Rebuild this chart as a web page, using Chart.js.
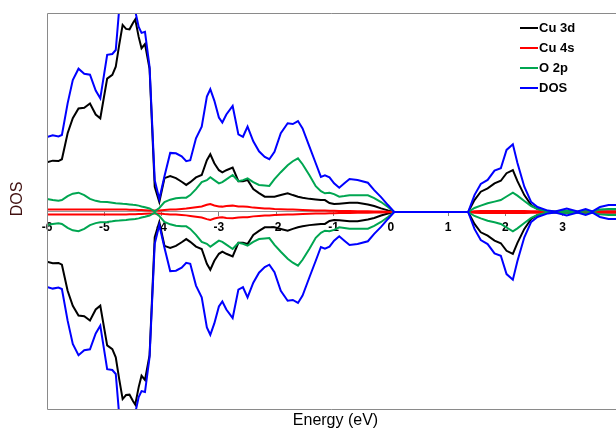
<!DOCTYPE html>
<html><head><meta charset="utf-8">
<script src="https://cdn.jsdelivr.net/npm/chart.js@4/dist/chart.umd.min.js"></script>
<style>html,body{margin:0;padding:0;background:#fff;} #wrap{width:616px;height:430px;position:relative;}</style>
</head><body><div id="wrap"><canvas id="c" width="616" height="430"></canvas></div>
<script>
// Energy grid (eV)
const energy = [-6.0,-5.9,-5.8,-5.74,-5.64,-5.55,-5.45,-5.35,-5.25,-5.15,-5.07,-4.95,-4.86,-4.8,-4.74,-4.68,-4.62,-4.56,-4.5,-4.46,-4.4,-4.35,-4.29,-4.21,-4.12,-4.04,-3.95,-3.85,-3.75,-3.65,-3.57,-3.5,-3.4,-3.3,-3.21,-3.15,-3.08,-3.0,-2.94,-2.87,-2.76,-2.66,-2.58,-2.5,-2.4,-2.3,-2.2,-2.12,-2.03,-1.92,-1.8,-1.71,-1.62,-1.54,-1.42,-1.31,-1.22,-1.15,-1.07,-0.99,-0.9,-0.81,-0.72,-0.58,-0.4,-0.29,-0.17,-0.05,0.06,1.35,1.46,1.57,1.69,1.81,1.92,2.02,2.13,2.21,2.33,2.45,2.56,2.74,2.87,3.07,3.26,3.4,3.52,3.65,3.8,3.93];
// Spin-up partial DOS values (spin-down is drawn as the mirror image)
const cu3d = [2.5,2.58,2.56,2.65,3.96,4.71,5.2,5.24,5.45,4.9,4.71,6.7,6.89,7.3,8.4,9.4,9.2,9.18,9.5,9.68,8.8,8.23,8.44,7.2,1.27,0.5,1.7,1.81,1.7,1.52,1.36,1.5,1.74,1.86,2.6,2.9,2.45,2.1,1.99,2.1,2.23,1.55,1.55,1.61,1.15,0.95,0.77,0.77,0.77,0.85,0.94,0.85,0.77,0.72,0.66,0.63,0.6,0.6,0.45,0.4,0.42,0.44,0.46,0.47,0.38,0.3,0.18,0.08,0,0,0.6,1.02,1.19,1.44,1.57,1.95,2.11,1.55,0.85,0.35,0.15,0.03,0.01,0.01,0,0.01,0,0.02,0.02,0.02];
const cu4s = [0.12,0.12,0.12,0.12,0.13,0.13,0.12,0.12,0.13,0.12,0.12,0.12,0.12,0.12,0.12,0.12,0.12,0.11,0.11,0.11,0.1,0.1,0.09,0.08,0.07,0.07,0.1,0.12,0.13,0.15,0.17,0.2,0.24,0.28,0.36,0.4,0.33,0.28,0.27,0.3,0.32,0.28,0.27,0.26,0.22,0.2,0.18,0.17,0.15,0.14,0.13,0.12,0.11,0.1,0.09,0.08,0.07,0.07,0.06,0.06,0.05,0.05,0.05,0.04,0.04,0.03,0.02,0.01,0,0,0.04,0.05,0.05,0.05,0.05,0.05,0.05,0.05,0.05,0.04,0.04,0.01,0.01,0.01,0.01,0.01,0.01,0.02,0.02,0.02];
const o2p = [0.65,0.6,0.57,0.6,0.8,0.92,0.97,0.85,0.66,0.56,0.52,0.5,0.47,0.44,0.43,0.41,0.4,0.38,0.36,0.35,0.32,0.28,0.24,0.18,0.03,0.2,0.5,0.62,0.69,0.72,0.72,0.85,1.15,1.5,1.6,1.75,1.6,1.44,1.5,1.64,1.86,1.55,1.6,1.69,1.5,1.36,1.33,1.31,1.65,2.0,2.35,2.55,2.7,2.4,1.85,1.3,1.05,0.94,0.97,0.9,0.77,0.8,0.84,0.84,0.84,0.7,0.5,0.25,0,0,0.2,0.32,0.44,0.52,0.6,0.78,0.97,0.82,0.55,0.3,0.15,0.03,0.03,0.06,0.02,0.08,0.03,0.12,0.15,0.15];
const dos = [3.77,3.85,3.8,3.87,5.46,6.63,7.2,6.95,6.9,6.1,5.71,7.9,7.94,8.14,10.2,10.9,11.2,11.0,10.8,10.1,9.3,9.0,9.05,7.3,1.6,0.65,1.8,2.97,2.95,2.8,2.55,2.6,3.7,4.29,5.8,6.17,5.6,4.75,4.5,4.9,5.33,3.9,3.78,4.29,3.55,3.05,2.77,2.65,3.03,3.96,4.46,4.42,4.57,4.2,3.28,2.45,1.76,1.84,1.74,1.44,1.22,1.44,1.66,1.61,1.47,1.1,0.75,0.35,0,0,0.85,1.41,1.61,2.08,2.2,3.12,3.4,2.46,1.27,0.5,0.25,0.07,0.03,0.18,0.03,0.15,0.03,0.25,0.35,0.35];

const seriesNames = ['Cu 3d','Cu 4s','O 2p','DOS'];
const seriesValues = [cu3d, cu4s, o2p, dos];
const seriesColors = ['#000000','#ff0000','#00a651','#0000ff'];
const seriesOrder = [3, 2, 1, 0];
const xTicks = [-6,-5,-4,-3,-2,-1,0,1,2,3];
const xMin = -6, xMax = 3.93, yMin = -9.9, yMax = 10;
const xTitle = 'Energy (eV)';
const yTitle = 'DOS';

const datasets = [];
seriesValues.forEach((vals, i) => {
  [1, -1].forEach(sign => {
    datasets.push({
      label: seriesNames[i] + (sign > 0 ? ' up' : ' down'),
      data: energy.map((e, k) => ({x: e, y: sign * vals[k]})),
      borderColor: seriesColors[i],
      backgroundColor: seriesColors[i],
      borderWidth: 2,
      pointRadius: 0,
      tension: 0,
      fill: false,
      order: seriesOrder[i]
    });
  });
});

const decor = {
  id: 'decor',
  afterDraw(chart) {
    const ctx = chart.ctx, a = chart.chartArea;
    ctx.save();
    // frame
    ctx.strokeStyle = '#8a8a8a';
    ctx.lineWidth = 1;
    ctx.beginPath();
    ctx.moveTo(a.left + 0.5, a.bottom + 0.5);
    ctx.lineTo(a.left + 0.5, a.top + 0.5);
    ctx.lineTo(a.right, a.top + 0.5);
    ctx.moveTo(a.left + 0.5, a.bottom + 0.5);
    ctx.lineTo(a.right, a.bottom + 0.5);
    ctx.stroke();
    // axis titles
    ctx.fillStyle = '#000';
    ctx.font = '16px "Liberation Sans", Arial, sans-serif';
    ctx.textAlign = 'center';
    ctx.textBaseline = 'middle';
    ctx.fillText(xTitle, (a.left + a.right) / 2 + 4, 421);
    ctx.save();
    ctx.translate(18, 199);
    ctx.rotate(-Math.PI / 2);
    ctx.fillStyle = '#401010';
    ctx.fillText(yTitle, 0, 0);
    ctx.restore();
    // legend
    ctx.font = 'bold 13px "Liberation Sans", Arial, sans-serif';
    ctx.textAlign = 'left';
    ctx.textBaseline = 'middle';
    seriesNames.forEach((n, i) => {
      const y = 28 + i * 20;
      ctx.strokeStyle = seriesColors[i];
      ctx.lineWidth = 2;
      ctx.beginPath();
      ctx.moveTo(520, y);
      ctx.lineTo(538, y);
      ctx.stroke();
      ctx.fillStyle = '#000';
      ctx.fillText(n, 539, y);
    });
    ctx.restore();
  }
};

new Chart(document.getElementById('c'), {
  type: 'line',
  data: { datasets },
  options: {
    responsive: false,
    animation: false,
    layout: { padding: { left: 47, top: 13, right: 0, bottom: 21 } },
    plugins: { legend: { display: false }, tooltip: { enabled: false } },
    scales: {
      x: {
        type: 'linear', min: xMin, max: xMax, position: { y: 0 },
        afterBuildTicks: s => { s.ticks = xTicks.map(v => ({ value: v })); },
        grid: { display: true, drawOnChartArea: false, drawTicks: true, tickLength: 4, color: '#808080', lineWidth: 1 },
        border: { display: true, color: '#999999', width: 1 },
        ticks: { color: '#000', font: { family: '"Liberation Sans", Arial, sans-serif', size: 12, weight: 'bold' }, padding: 4, maxRotation: 0, autoSkip: false, includeBounds: false }
      },
      y: { type: 'linear', min: yMin, max: yMax, display: false }
    }
  },
  plugins: [decor]
});
</script>
</body></html>
